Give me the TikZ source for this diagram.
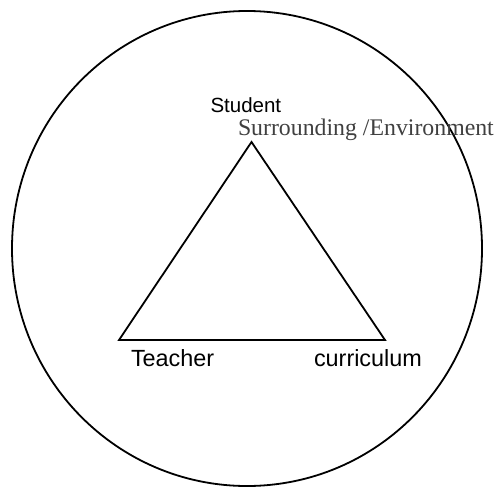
\documentclass[tikz,border=0pt]{standalone}
\usepackage{fontspec}
\setmainfont{Liberation Sans}
\newfontfamily\serifface{Liberation Serif}
\definecolor{envgray}{HTML}{404040}
\begin{document}
\begin{tikzpicture}[x=1pt,y=-1pt,
  lbl/.style={inner sep=0pt,outer sep=0pt,anchor=base west},
  shapeline/.style={draw=black,line width=1.8pt}]
\useasboundingbox (0,0) rectangle (497,487);
% outer circle
\draw[shapeline] (247,248.5) ellipse [x radius=235, y radius=237.5];
% triangle
\coordinate (apex) at (251.5,142);
\coordinate (bl) at (119,340);
\coordinate (br) at (385,340);
\draw[shapeline,line join=miter] (apex) -- (bl) -- (br) -- cycle;
% labels
\node[lbl,font=\fontsize{20.5}{24}\selectfont] (student) at (210.5,112) {Student};
\node[lbl,font=\serifface\fontsize{23.8}{28}\selectfont,text=envgray] (env) at (238,135) {Surrounding /Environment};
\node[lbl,font=\fontsize{23.4}{28}\selectfont] (teacher) at (131,366) {Teacher};
\node[lbl,font=\fontsize{23.4}{28}\selectfont] (curr) at (314,366) {curriculum};
\end{tikzpicture}
\end{document}
